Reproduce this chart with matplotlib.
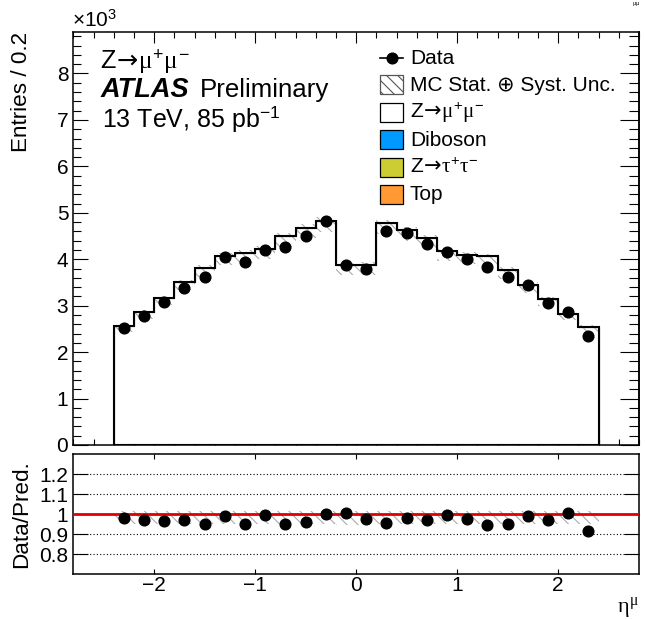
import numpy as np
import matplotlib
matplotlib.use("Agg")
import matplotlib.pyplot as plt
from matplotlib.ticker import MultipleLocator, FixedLocator, FormatStrFormatter, NullFormatter
from matplotlib.lines import Line2D
from matplotlib.patches import Rectangle

plt.rcParams['font.family'] = ['Liberation Sans', 'DejaVu Sans']
plt.rcParams['font.size'] = 15
plt.rcParams['mathtext.fontset'] = 'custom'
plt.rcParams['mathtext.rm'] = 'Liberation Sans'
plt.rcParams['mathtext.it'] = 'Liberation Serif'
plt.rcParams['mathtext.bf'] = 'Liberation Sans:bold'
plt.rcParams['mathtext.sf'] = 'DejaVu Sans'
plt.rcParams['hatch.linewidth'] = 0.8

# ---------------- data (entries in units of 10^3) ----------------
bin_edges = np.linspace(-2.4, 2.4, 25)
data = [2.53, 2.78, 3.07, 3.38, 3.62, 4.04, 3.94, 4.20, 4.27, 4.50, 4.83, 3.87,
        3.79, 4.60, 4.56, 4.33, 4.16, 4.00, 3.84, 3.61, 3.45, 3.06, 2.86, 2.34]
zmumu = [2.53, 2.83, 3.14, 3.48, 3.78, 4.05, 4.10, 4.19, 4.46, 4.65, 4.80, 3.84,
         3.85, 4.75, 4.60, 4.42, 4.14, 4.07, 4.03, 3.74, 3.42, 3.12, 2.80, 2.52]
diboson = [0.005, 0.005, 0.006, 0.006, 0.006, 0.006, 0.006, 0.006, 0.006, 0.006, 0.006, 0.006,
           0.006, 0.006, 0.006, 0.006, 0.006, 0.006, 0.006, 0.006, 0.006, 0.006, 0.005, 0.005]
ztautau = [0.008, 0.009, 0.009, 0.010, 0.010, 0.010, 0.010, 0.010, 0.011, 0.011, 0.011, 0.010,
           0.010, 0.011, 0.011, 0.011, 0.010, 0.010, 0.010, 0.010, 0.010, 0.009, 0.009, 0.008]
top = [0.012, 0.013, 0.013, 0.014, 0.014, 0.014, 0.014, 0.014, 0.014, 0.014, 0.014, 0.013,
       0.013, 0.014, 0.014, 0.014, 0.014, 0.014, 0.014, 0.014, 0.014, 0.013, 0.013, 0.012]
unc_down = [0.05, 0.05, 0.05, 0.05, 0.05, 0.05, 0.05, 0.05, 0.05, 0.05, 0.05, 0.055,
            0.055, 0.05, 0.05, 0.05, 0.05, 0.05, 0.05, 0.05, 0.05, 0.05, 0.05, 0.05]
unc_up = [0.015, 0.015, 0.015, 0.015, 0.015, 0.015, 0.015, 0.015, 0.015, 0.015, 0.015, 0.015,
          0.015, 0.015, 0.015, 0.015, 0.015, 0.015, 0.015, 0.015, 0.015, 0.015, 0.015, 0.015]
ratio = [0.983, 0.974, 0.969, 0.970, 0.952, 0.992, 0.952, 0.997, 0.952, 0.962, 1.002, 1.005,
         0.977, 0.959, 0.983, 0.974, 0.995, 0.979, 0.945, 0.954, 0.993, 0.974, 1.007, 0.919]

main_yticks = [0, 1, 2, 3, 4, 5, 6, 7, 8]
ratio_yticks = [0.8, 0.9, 1.0, 1.1, 1.2]
ratio_ylabels = ['0.8', '0.9', '1', '1.1', '1.2']
eta_ticks = [-2, -1, 0, 1, 2]

ZMM = r'Z$\!\mathsf{\rightarrow}\!\mu^{+}\mu^{-}$'
ZTT = r'Z$\!\mathsf{\rightarrow}\!\tau^{+}\tau^{-}$'
legend_labels = ['Data', 'MC Stat. \u2295 Syst. Unc.', ZMM, 'Diboson', ZTT, 'Top']
legend_colors = [None, 'white', 'white', '#0099ff', '#cccc33', '#ff9933']

centers = 0.5 * (bin_edges[:-1] + bin_edges[1:])
W, H = 645, 619

fig = plt.figure(figsize=(W / 100, H / 100), dpi=100)
ax = fig.add_axes([73.3 / W, (H - 445) / H, (639 - 73.3) / W, (445 - 31.7) / H])
axr = fig.add_axes([73.3 / W, (H - 574.3) / H, (639 - 73.3) / W, (574.3 - 454.3) / H])

HATCH = '\\\\\\'
HCOL = '#ababab'

# ---------------- main panel ----------------
cum = np.zeros(len(centers))
for vals, col in [(top, '#ff9933'), (ztautau, '#cccc33'), (diboson, '#0099ff'), (zmumu, 'white')]:
    v = np.asarray(vals)
    ax.stairs(cum + v, bin_edges, baseline=cum.copy(), fill=True, facecolor=col,
              edgecolor='black', linewidth=0.8, zorder=2)
    cum = cum + v
total = cum
ax.stairs(total * (1 + np.asarray(unc_up)), bin_edges, baseline=total * (1 - np.asarray(unc_down)),
          fill=True, facecolor='none', edgecolor=HCOL, hatch=HATCH, linewidth=0, zorder=3)
ax.stairs(total, bin_edges, baseline=0, fill=False, color='black', linewidth=1.5, zorder=4)
ax.plot(centers, data, 'o', color='black', ms=7.7, zorder=6)

ax.set_xlim(-2.8, 2.8)
ax.set_ylim(0, 8.9)
ax.xaxis.set_major_locator(FixedLocator(eta_ticks))
ax.xaxis.set_minor_locator(MultipleLocator(0.2))
ax.yaxis.set_major_locator(FixedLocator(main_yticks))
ax.yaxis.set_minor_locator(MultipleLocator(0.2))
ax.yaxis.set_major_formatter(FormatStrFormatter('%d'))
ax.tick_params(which='both', direction='in', top=True, right=False, labelbottom=False, width=0.8)
ax.tick_params(axis='y', which='major', length=10.5, pad=3.6)
ax.tick_params(axis='y', which='minor', length=5.5)
ax.tick_params(axis='x', which='major', length=7.7)
ax.tick_params(axis='x', which='minor', length=4)
sec = ax.secondary_yaxis('right')
sec.yaxis.set_major_locator(FixedLocator(main_yticks))
sec.yaxis.set_minor_locator(MultipleLocator(0.2))
sec.yaxis.set_major_formatter(NullFormatter())
sec.tick_params(which='both', direction='in', width=0.8)
sec.tick_params(which='major', length=13.5)
sec.tick_params(which='minor', length=7)
for s in list(ax.spines.values()) + list(sec.spines.values()):
    s.set_linewidth(1.1)
ax.set_ylabel('Entries / 0.2', loc='top', fontsize=16.2)
ax.yaxis.set_label_coords(-0.0723, 1.0)

# ---------------- ratio panel ----------------
for yv in [0.8, 0.9, 1.1, 1.2]:
    axr.axhline(yv, color='black', linestyle=(0, (1, 2)), linewidth=0.8, zorder=1)
axr.stairs(1 + np.asarray(unc_up), bin_edges, baseline=1 - np.asarray(unc_down), fill=True,
           facecolor='none', edgecolor=HCOL, hatch=HATCH, linewidth=0, zorder=2)
axr.axhline(1.0, color='#e00000', linewidth=2.0, zorder=3)
axr.plot(centers, ratio, 'o', color='black', ms=7.7, zorder=5)
axr.set_xlim(-2.8, 2.8)
axr.set_ylim(0.7, 1.3)
axr.xaxis.set_major_locator(FixedLocator(eta_ticks))
axr.yaxis.set_major_locator(FixedLocator(ratio_yticks))
axr.set_yticklabels(ratio_ylabels)
axr.tick_params(which='both', direction='in', top=True, right=True, width=0.8)
axr.tick_params(axis='y', which='major', length=10.5, pad=3.6)
axr.tick_params(axis='x', which='major', length=3.6, pad=1)
for s in axr.spines.values():
    s.set_linewidth(1.1)
axr.set_ylabel('Data/Pred.', fontsize=16.2)
axr.yaxis.set_label_coords(-0.0723, 0.5)
axr.set_xlabel(r'$\eta^{\mu}$', loc='right', fontsize=16)
axr.xaxis.set_label_coords(1.0, -0.17)

# ---------------- texts ----------------
def fx(px):
    return px / W

def fy(py):
    return 1 - py / H

fig.text(fx(72), fy(27), r'$\times10^{3}$', ha='left', va='baseline', fontsize=15)
fig.text(fx(100), fy(68), ZMM, ha='left', va='baseline', fontsize=18.3)
fig.text(fx(101), fy(97), 'ATLAS', ha='left', va='baseline', fontsize=19.5,
         fontweight='bold', fontstyle='italic')
fig.text(fx(200), fy(97), 'Preliminary', ha='left', va='baseline', fontsize=18.6)
fig.text(fx(102), fy(127), r'13 TeV, 85 pb$^{-1}$', ha='left', va='baseline', fontsize=18)
fig.text(fx(636), fy(0.5), r'$\mu\mu$', ha='center', va='top', fontsize=4.5)

# ---------------- legend (manual, ROOT-like) ----------------
row_y = [57.5 + 27.4 * i for i in range(len(legend_labels))]
for i, (lab, col) in enumerate(zip(legend_labels, legend_colors)):
    yc = row_y[i]
    if i == 0:
        fig.add_artist(Line2D([fx(380), fx(403.3)], [fy(yc), fy(yc)], color='black', lw=1.2))
        fig.add_artist(Line2D([fx(391.7)], [fy(yc)], marker='o', color='black', ms=7.7))
    else:
        hatch = HATCH if i == 1 else None
        ec = '#555555' if i == 1 else 'black'
        r = Rectangle((fx(380), fy(yc + 9.5)), fx(23.3), 19 / H, facecolor=col,
                      edgecolor=ec, linewidth=0.9, hatch=hatch, transform=fig.transFigure)
        fig.add_artist(r)
    fig.text(fx(410), fy(yc + 6.0), lab, ha='left', va='baseline', fontsize=15)

fig.savefig('out.png', dpi=100)
